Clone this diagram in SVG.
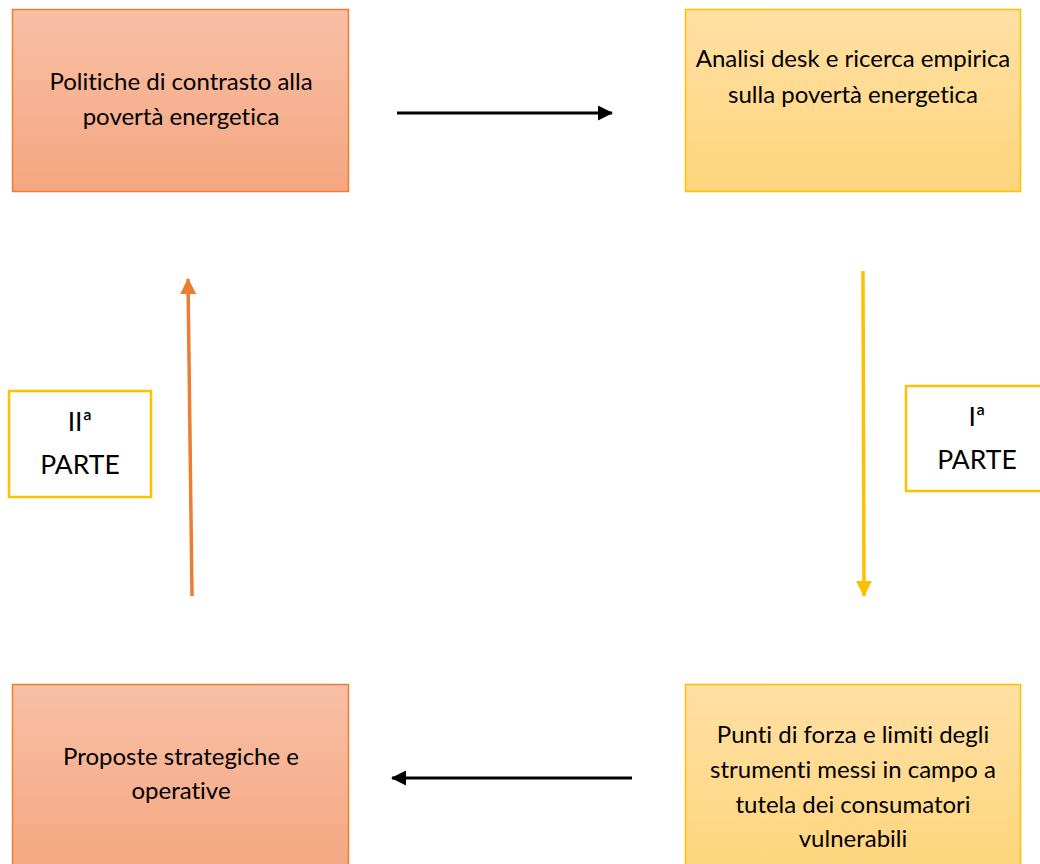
<svg xmlns="http://www.w3.org/2000/svg" width="1040" height="864" viewBox="0 0 1040 864">
<defs>
<linearGradient id="gOr" x1="0" y1="0" x2="0" y2="1"><stop offset="0" stop-color="#F8C0A6"/><stop offset="1" stop-color="#F5A680"/></linearGradient>
<linearGradient id="gYe" x1="0" y1="0" x2="0" y2="1"><stop offset="0" stop-color="#FFE0A4"/><stop offset="1" stop-color="#FFD57C"/></linearGradient>
<marker id="aBk" markerWidth="15" markerHeight="15" refX="14" refY="7.5" orient="auto" markerUnits="userSpaceOnUse"><path d="M0,0 L15,7.5 L0,15 z" fill="#000"/></marker>
<marker id="aYe" markerWidth="16" markerHeight="16" refX="15" refY="8" orient="auto" markerUnits="userSpaceOnUse"><path d="M0,0 L16,8 L0,16 z" fill="#FFC000"/></marker>
<marker id="aOr" markerWidth="16" markerHeight="16" refX="15" refY="8" orient="auto" markerUnits="userSpaceOnUse"><path d="M0,0 L16,8 L0,16 z" fill="#ED7D31"/></marker>
</defs>
<style>
.t{font-family:Lato,"Open Sans","Liberation Sans",sans-serif;font-size:24px;fill:#000;text-anchor:middle;font-variant-ligatures:none}
.p{font-family:Lato,"Open Sans","Liberation Sans",sans-serif;font-size:26.5px;fill:#000;text-anchor:middle}
.or{fill:url(#gOr);stroke:#ED7D31;stroke-width:1.5}
.ye{fill:url(#gYe);stroke:#FFC000;stroke-width:1.5}
.lab{fill:#fff;stroke:#FFC000;stroke-width:2.5}
</style>
<rect width="1040" height="864" fill="#fff"/>
<g id="n1"><rect class="or" x="12.5" y="9.5" width="336" height="182"/>
<text class="t" x="181" y="90">Politiche di contrasto alla</text><text class="t" x="181" y="125">povertà energetica</text></g>
<g id="n2"><rect class="ye" x="685.5" y="9.5" width="335" height="182"/>
<text class="t" x="853" y="67">Analisi desk e ricerca empirica</text><text class="t" x="853" y="103">sulla povertà energetica</text></g>
<g id="n3"><rect class="ye" x="685.5" y="684.5" width="335" height="190"/>
<text class="t" x="853" y="743">Punti di forza e limiti degli</text><text class="t" x="853" y="778">strumenti messi in campo a</text><text class="t" x="853" y="813">tutela dei consumatori</text><text class="t" x="853" y="847">vulnerabili</text></g>
<g id="n4"><rect class="or" x="12.5" y="684.5" width="336" height="190"/>
<text class="t" x="181" y="765">Proposte strategiche e</text><text class="t" x="181" y="799">operative</text></g>
<g id="l2"><rect class="lab" x="9" y="391" width="142" height="106"/>
<text class="p" x="80" y="431">IIª</text><text class="p" x="80" y="474">PARTE</text></g>
<g id="l1"><rect class="lab" x="906" y="386" width="140" height="105"/>
<text class="p" x="977" y="426">Iª</text><text class="p" x="977" y="469">PARTE</text></g>
<g id="edges" fill="none">
<line x1="397" y1="113" x2="612" y2="113" stroke="#000" stroke-width="3" marker-end="url(#aBk)"/>
<line x1="863" y1="271" x2="864" y2="596" stroke="#FFC000" stroke-width="3.5" marker-end="url(#aYe)"/>
<line x1="632" y1="778" x2="392" y2="778" stroke="#000" stroke-width="3" marker-end="url(#aBk)"/>
<line x1="192" y1="596" x2="188" y2="279" stroke="#ED7D31" stroke-width="3.5" marker-end="url(#aOr)"/>
</g>
</svg>
